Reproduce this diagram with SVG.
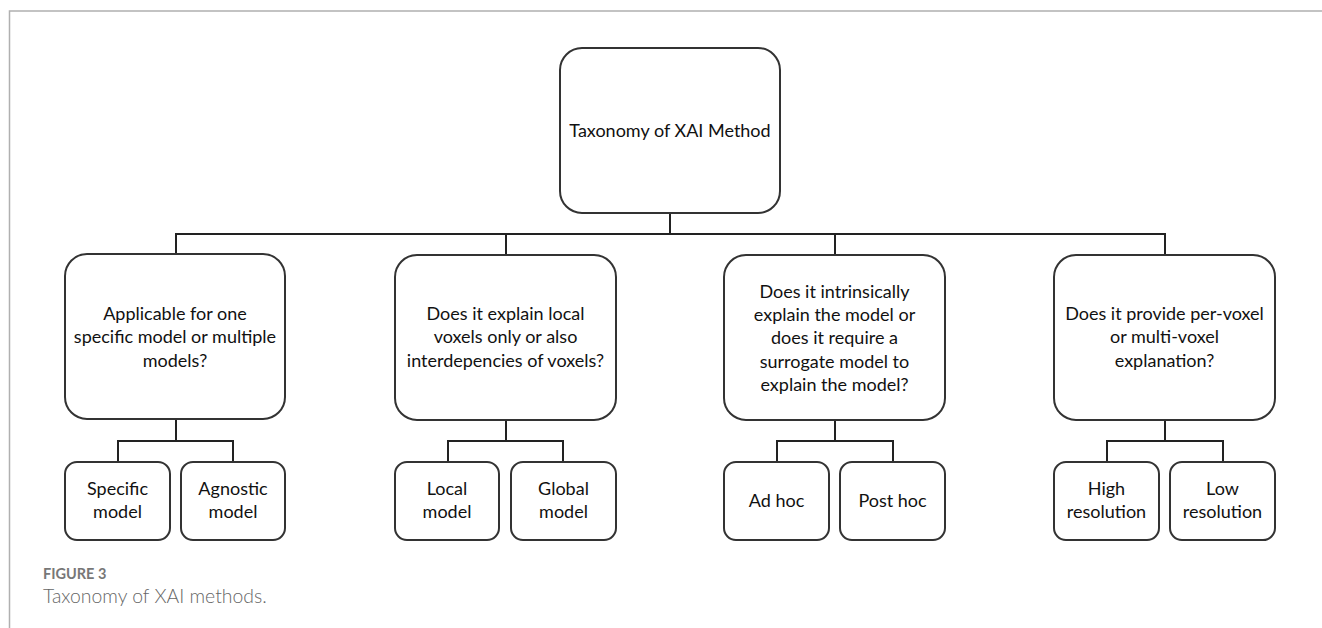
<svg xmlns="http://www.w3.org/2000/svg" width="1322" height="628" viewBox="0 0 1322 628">
<style>
.box{fill:#fff;stroke:#333;stroke-width:2}
.t{font-family:Lato,"Liberation Sans",sans-serif;font-size:18px;fill:#111;text-anchor:middle}
.c{fill:none;stroke:#222;stroke-width:2}
.frame{fill:none;stroke:#b0b0b0;stroke-width:1.5}
</style>
<rect width="1322" height="628" fill="#fff"/>
<path class="frame" d="M9.5,628 V11 H1322"/>
<g id="connectors">
<path class="c" d="M670,213 V234 M176,254 V234 H1165 V254 M506,234 V255 M835,234 V255"/>
<path class="c" d="M176,419 V441 M118,462 V441 H233 V462"/>
<path class="c" d="M506,420 V441 M448,462 V441 H563 V462"/>
<path class="c" d="M835,420 V441 M777,462 V441 H893 V462"/>
<path class="c" d="M1165,420 V441 M1107,462 V441 H1223 V462"/>
</g>
<g id="root">
<rect class="box" x="560" y="48" width="220" height="165" rx="22"/>
<text class="t" x="670" y="137">Taxonomy of XAI Method</text>
</g>
<g id="q1">
<rect class="box" x="65" y="254" width="220" height="165" rx="22"/>
<text class="t" x="175" y="320">Applicable for one</text>
<text class="t" x="175" y="343.3">specific model or multiple</text>
<text class="t" x="175" y="366.7">models?</text>
</g>
<g id="q2">
<rect class="box" x="395" y="255" width="221" height="165" rx="22"/>
<text class="t" x="505.5" y="320">Does it explain local</text>
<text class="t" x="505.5" y="343.3">voxels only or also</text>
<text class="t" x="505.5" y="366.7">interdepencies of voxels?</text>
</g>
<g id="q3">
<rect class="box" x="724" y="255" width="221" height="165" rx="22"/>
<text class="t" x="834.5" y="297.7">Does it intrinsically</text>
<text class="t" x="834.5" y="321">explain the model or</text>
<text class="t" x="834.5" y="344.3">does it require a</text>
<text class="t" x="834.5" y="367.7">surrogate model to</text>
<text class="t" x="834.5" y="391">explain the model?</text>
</g>
<g id="q4">
<rect class="box" x="1054" y="255" width="221" height="165" rx="22"/>
<text class="t" x="1164.5" y="320">Does it provide per-voxel</text>
<text class="t" x="1164.5" y="343.3">or multi-voxel</text>
<text class="t" x="1164.5" y="366.7">explanation?</text>
</g>
<g id="specific">
<rect class="box" x="65" y="462" width="105" height="78" rx="12"/>
<text class="t" x="117.5" y="495">Specific</text>
<text class="t" x="117.5" y="518.3">model</text>
</g>
<g id="agnostic">
<rect class="box" x="181" y="462" width="104" height="78" rx="12"/>
<text class="t" x="233" y="495">Agnostic</text>
<text class="t" x="233" y="518.3">model</text>
</g>
<g id="local">
<rect class="box" x="395" y="462" width="104" height="78" rx="12"/>
<text class="t" x="447" y="495">Local</text>
<text class="t" x="447" y="518.3">model</text>
</g>
<g id="global">
<rect class="box" x="511" y="462" width="105" height="78" rx="12"/>
<text class="t" x="563.5" y="495">Global</text>
<text class="t" x="563.5" y="518.3">model</text>
</g>
<g id="adhoc">
<rect class="box" x="724" y="462" width="105" height="78" rx="12"/>
<text class="t" x="776.5" y="506.7">Ad hoc</text>
</g>
<g id="posthoc">
<rect class="box" x="840" y="462" width="105" height="78" rx="12"/>
<text class="t" x="892.5" y="506.7">Post hoc</text>
</g>
<g id="high">
<rect class="box" x="1054" y="462" width="105" height="78" rx="12"/>
<text class="t" x="1106.5" y="495">High</text>
<text class="t" x="1106.5" y="518.3">resolution</text>
</g>
<g id="low">
<rect class="box" x="1170" y="462" width="105" height="78" rx="12"/>
<text class="t" x="1222.5" y="495">Low</text>
<text class="t" x="1222.5" y="518.3">resolution</text>
</g>
<text x="43" y="579" font-family="Lato,'Liberation Sans',sans-serif" font-size="14.5" font-weight="bold" fill="#777">FIGURE 3</text>
<text x="43" y="602.7" font-family="Lato,'Liberation Sans',sans-serif" font-size="19.4" font-weight="300" fill="#666">Taxonomy of XAI methods.</text>
</svg>
